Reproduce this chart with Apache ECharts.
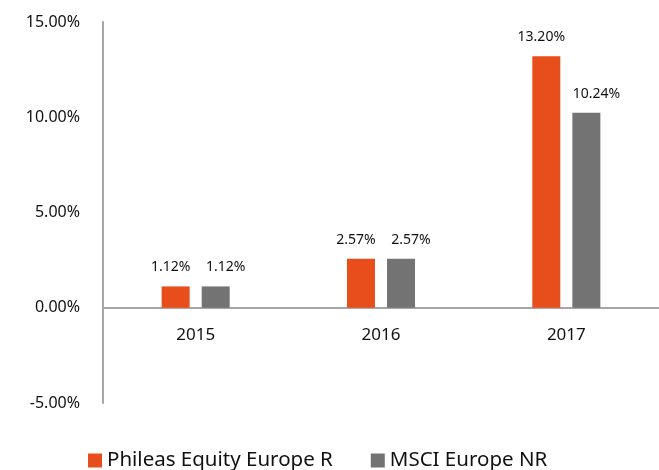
<!DOCTYPE html>
<html lang="en">
<head>
    <meta charset="UTF-8">
    <title>Performance</title>
    <script src="https://cdn.jsdelivr.net/npm/echarts@6/dist/echarts.min.js"></script>
</head>
<body style="margin:0;background:#fff;">
<div id="main" style="width:659px;height:470px;"></div>
<script type="text/javascript">
    var years = ['2015', '2016', '2017'];
    var phileas = [1.12, 2.57, 13.20];
    var msci = [1.12, 2.57, 10.24];
    var seriesNames = ['Phileas Equity Europe R', 'MSCI Europe NR'];

    var font = 'Noto Sans';
    var myChart = echarts.init(document.getElementById('main'));

    function pctLabel(p) {
        return p.value.toFixed(2) + '%';
    }

    var option = {
        animation: false,
        textStyle: {fontFamily: font},
        grid: {left: 103, top: 22, bottom: 67, width: 564, containLabel: false},
        legend: {
            data: seriesNames,
            bottom: -6,
            left: 83,
            itemWidth: 14,
            itemHeight: 14,
            itemGap: 38,
            icon: 'rect',
            textStyle: {fontFamily: font, fontSize: 20.5, color: '#111'}
        },
        xAxis: {
            type: 'category',
            data: years,
            offset: -95,
            axisLine: {onZero: false, lineStyle: {color: '#a6a6a6', width: 2}},
            axisTick: {show: false},
            axisLabel: {fontFamily: font, fontSize: 17, color: '#111', margin: 19}
        },
        yAxis: {
            type: 'value',
            min: -5,
            max: 15,
            interval: 5,
            axisLine: {show: true, lineStyle: {color: '#a6a6a6', width: 2}},
            axisTick: {show: false},
            splitLine: {show: false},
            axisLabel: {
                fontFamily: font, fontSize: 16, color: '#111', margin: 23,
                formatter: function (v) { return v.toFixed(2) + '%'; }
            }
        },
        series: [{
            name: seriesNames[0],
            type: 'bar',
            data: phileas,
            barWidth: 28,
            barGap: '43%',
            itemStyle: {color: '#e84e1b'},
            label: {show: true, position: 'top', distance: 12, offset: [-5, 0], fontFamily: font, fontSize: 14, color: '#111', formatter: pctLabel}
        }, {
            name: seriesNames[1],
            type: 'bar',
            data: msci,
            barWidth: 28,
            itemStyle: {color: '#737373'},
            label: {show: true, position: 'top', distance: 12, offset: [10, 0], fontFamily: font, fontSize: 14, color: '#111', formatter: pctLabel}
        }]
    };

    myChart.setOption(option);
</script>
</body>
</html>
